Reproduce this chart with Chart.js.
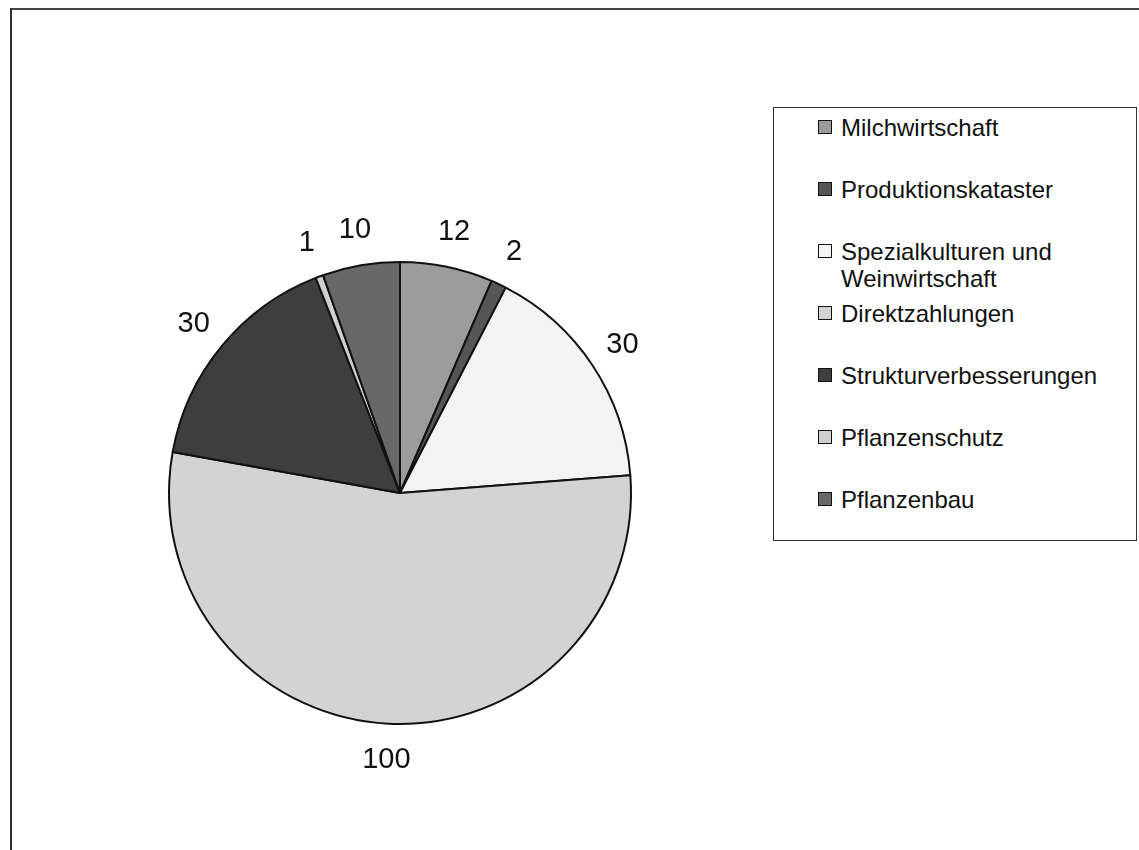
<!DOCTYPE html>
<html>
<head>
<meta charset="utf-8">
<script src="https://cdn.jsdelivr.net/npm/chart.js@4"></script>
<style>
  body { margin: 0; background: #fff; font-family: "Liberation Sans", Arial, sans-serif; }
  #wrap { position: relative; width: 1139px; height: 850px; overflow: hidden; }
  #frame { position: absolute; left: 10px; top: 8px; width: 1140px; height: 850px;
           border-top: 2px solid #444; border-left: 2px solid #333; }
  #myChart { position: absolute; left: 0; top: 0; }
  #legend { position: absolute; left: 773px; top: 107px; width: 362px; height: 432px;
            border: 1.5px solid #333; background: #fff; }
  .item { position: absolute; left: 44px; font-size: 24px; line-height: 27px; color: #111; }
  .box { position: absolute; left: 0; top: 6px; width: 14px; height: 14px; border: 1.5px solid #111; box-sizing: border-box; }
  .txt { position: absolute; left: 23px; top: 0; width: 270px; }
</style>
</head>
<body>
<div id="wrap">
  <div id="frame"></div>
  <canvas id="myChart" width="1139" height="850"></canvas>
  <div id="legend"></div>
</div>
<script>
const labels = ['Milchwirtschaft', 'Produktionskataster', 'Spezialkulturen und Weinwirtschaft',
  'Direktzahlungen', 'Strukturverbesserungen', 'Pflanzenschutz', 'Pflanzenbau'];
const values = [12, 2, 30, 100, 30, 1, 10];
const colors = ['#9c9c9c', '#565656', '#f3f3f3', '#d3d3d3', '#3e3e3e', '#d0d0d0', '#686868'];

// value labels outside the slices
const outsideLabels = {
  id: 'outsideLabels',
  afterDatasetsDraw(chart) {
    const ctx = chart.ctx;
    const meta = chart.getDatasetMeta(0);
    ctx.save();
    ctx.font = '29px "Liberation Sans", Arial, sans-serif';
    ctx.fillStyle = '#111';
    ctx.textAlign = 'center';
    ctx.textBaseline = 'middle';
    meta.data.forEach((arc, i) => {
      const mid = (arc.startAngle + arc.endAngle) / 2;
      const r = arc.outerRadius + 36;
      ctx.fillText(String(values[i]), arc.x + Math.cos(mid) * r, arc.y + Math.sin(mid) * r);
    });
    ctx.restore();
  }
};

new Chart(document.getElementById('myChart'), {
  type: 'pie',
  data: {
    labels: labels,
    datasets: [{
      data: values,
      backgroundColor: colors,
      borderColor: '#111',
      borderWidth: 2
    }]
  },
  options: {
    responsive: false,
    animation: false,
    layout: { padding: { left: 168, right: 507, top: 261, bottom: 125 } },
    plugins: {
      legend: { display: false },
      tooltip: { enabled: false }
    }
  },
  plugins: [outsideLabels]
});

// legend box
const legend = document.getElementById('legend');
labels.forEach((lab, i) => {
  const item = document.createElement('div');
  item.className = 'item';
  item.style.top = (6 + i * 62) + 'px';
  item.innerHTML = '<span class="box" style="background:' + colors[i] + '"></span><span class="txt">' + lab + '</span>';
  legend.appendChild(item);
});
</script>
</body>
</html>
